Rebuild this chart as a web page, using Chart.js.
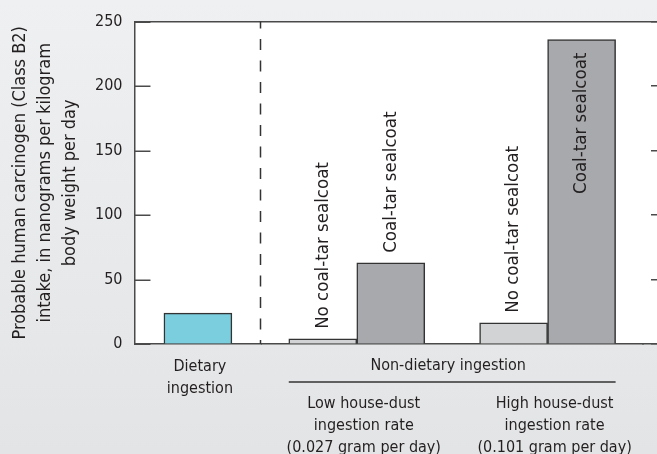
<!DOCTYPE html>
<html>
<head>
<meta charset="utf-8">
<script src="https://cdn.jsdelivr.net/npm/chart.js@4.4.0/dist/chart.umd.min.js"></script>
<style>
  html, body { margin: 0; padding: 0; }
  body {
    width: 657px;
    height: 454px;
    overflow: hidden;
    background: linear-gradient(#eff0f1, #e3e4e5);
  }
  /* the original figure is cropped on the right and bottom edges */
  #wrap { width: 668px; height: 476px; }
</style>
</head>
<body>
<div id="wrap"><canvas id="chart"></canvas></div>
<script>
const dietaryLabels = [['Dietary', 'ingestion']];
const houseDustLabels = [
  ['Low house-dust', 'ingestion rate', '(0.027 gram per day)'],
  ['High house-dust', 'ingestion rate', '(0.101 gram per day)'],
];
const groupTitle = 'Non-dietary ingestion';
const yTitle = [
  'Probable human carcinogen (Class B2)',
  'intake, in nanograms per kilogram',
  'body weight per day',
];

const dietaryIntake = [24];
const noCoalTarIntake = [4, 16.5];
const coalTarIntake = [63, 236];
const yTicks = [0, 50, 100, 150, 200, 250];

const FONT = "'DejaVu Sans Condensed', 'Liberation Sans Narrow', 'DejaVu Sans', sans-serif";
const INK = '#231f20';
const AXIS = '#4a4a4a';
const BAR_EDGE = '#333333';
const BAR_WIDTH = 68;

const plotFrame = {
  id: 'plotFrame',
  beforeDraw(chart) {
    const { ctx, chartArea: a } = chart;
    ctx.save();
    ctx.fillStyle = '#ffffff';
    ctx.fillRect(a.left, a.top, a.right - a.left, a.bottom - a.top);
    ctx.restore();
  },
  afterDatasetsDraw(chart) {
    const { ctx, chartArea: a, scales } = chart;

    // inward tick marks on the left axis
    ctx.save();
    ctx.strokeStyle = AXIS;
    ctx.lineWidth = 1.5;
    yTicks.forEach(v => {
      const py = Math.round(scales.y.getPixelForValue(v)) + 0.25;
      ctx.beginPath();
      ctx.moveTo(a.left, py);
      ctx.lineTo(a.left + 16, py);
      ctx.stroke();
    });
    ctx.restore();

    // dashed line between dietary and non-dietary
    const sx = Math.round(scales.xDiet.right) - 0.5;
    ctx.save();
    ctx.strokeStyle = '#333';
    ctx.lineWidth = 1.5;
    ctx.setLineDash([11, 10.5]);
    ctx.lineDashOffset = 4;
    ctx.beginPath();
    ctx.moveTo(sx, a.top);
    ctx.lineTo(sx, a.bottom);
    ctx.stroke();
    ctx.restore();

    // rotated labels on the house-dust bars
    ctx.save();
    ctx.font = '18.5px ' + FONT;
    ctx.fillStyle = INK;
    ctx.textBaseline = 'middle';
    chart.data.datasets.forEach((ds, i) => {
      if (ds.xAxisID !== 'xNon') return;
      chart.getDatasetMeta(i).data.forEach(bar => {
        const w = ctx.measureText(ds.label).width;
        const inside = bar.y - 10 - w < a.top + 8;
        ctx.save();
        ctx.translate(bar.x, inside ? bar.y + 13 : bar.y - 10);
        ctx.rotate(-Math.PI / 2);
        ctx.textAlign = inside ? 'right' : 'left';
        ctx.fillText(ds.label, 0, 0);
        ctx.restore();
      });
    });
    ctx.restore();
  },
  afterDraw(chart) {
    const { ctx, chartArea: a } = chart;
    let left = Infinity;
    let right = -Infinity;
    chart.data.datasets.forEach((ds, i) => {
      if (ds.xAxisID !== 'xNon') return;
      chart.getDatasetMeta(i).data.forEach(bar => {
        left = Math.min(left, bar.x - bar.width / 2);
        right = Math.max(right, bar.x + bar.width / 2);
      });
    });
    ctx.save();
    ctx.font = '16px ' + FONT;
    ctx.fillStyle = INK;
    ctx.textAlign = 'center';
    ctx.textBaseline = 'middle';
    ctx.fillText(groupTitle, (left + right) / 2 - 4, a.bottom + 22);
    ctx.strokeStyle = '#333';
    ctx.lineWidth = 1.5;
    ctx.beginPath();
    ctx.moveTo(left, a.bottom + 38);
    ctx.lineTo(right, a.bottom + 38);
    ctx.stroke();
    ctx.restore();
  },
};

const tickFont = { family: FONT, size: 16, lineHeight: 1.375 };
const plainX = {
  grid: { display: false, drawTicks: false },
  border: { color: AXIS, width: 1.5 },
};
// stacked bottom axes: keep their label overhang from shrinking the plot
const noSidePadding = axis => {
  axis.paddingLeft = 0;
  axis.paddingRight = 0;
};

new Chart(document.getElementById('chart'), {
  type: 'bar',
  data: {
    datasets: [
      {
        label: 'Dietary ingestion',
        data: dietaryIntake,
        xAxisID: 'xDiet',
        grouped: false,
        backgroundColor: '#7acede',
        borderColor: BAR_EDGE,
        borderWidth: 1.5,
        barThickness: BAR_WIDTH,
      },
      {
        label: 'No coal-tar sealcoat',
        data: noCoalTarIntake,
        xAxisID: 'xNon',
        backgroundColor: '#d1d3d4',
        borderColor: BAR_EDGE,
        borderWidth: 1.5,
        barThickness: BAR_WIDTH,
      },
      {
        label: 'Coal-tar sealcoat',
        data: coalTarIntake,
        xAxisID: 'xNon',
        backgroundColor: '#a7a9ac',
        borderColor: BAR_EDGE,
        borderWidth: 1.5,
        barThickness: BAR_WIDTH,
      },
    ],
  },
  options: {
    responsive: true,
    maintainAspectRatio: false,
    animation: false,
    layout: { padding: { left: 4, top: 21, right: 1, bottom: 0 } },
    plugins: {
      legend: { display: false },
      tooltip: { enabled: false },
    },
    scales: {
      xDiet: {
        type: 'category',
        labels: dietaryLabels,
        position: 'bottom',
        stack: 'bottomAxes',
        stackWeight: 127,
        offset: true,
        ...plainX,
        afterFit: noSidePadding,
        ticks: { padding: 12, color: INK, font: tickFont, maxRotation: 0, autoSkip: false, labelOffset: 2 },
      },
      xNon: {
        type: 'category',
        labels: houseDustLabels,
        position: 'bottom',
        stack: 'bottomAxes',
        stackWeight: 382,
        offset: true,
        ...plainX,
        afterFit: noSidePadding,
        ticks: { padding: 49, color: INK, font: tickFont, maxRotation: 0, autoSkip: false, labelOffset: 7 },
      },
      xPad: {
        type: 'linear',
        position: 'bottom',
        stack: 'bottomAxes',
        stackWeight: 24,
        ...plainX,
        ticks: { display: false },
      },
      xTop: {
        type: 'linear',
        position: 'top',
        ...plainX,
        ticks: { display: false },
      },
      y: {
        position: 'left',
        min: 0,
        max: 250,
        afterBuildTicks: axis => {
          axis.ticks = yTicks.map(v => ({ value: v }));
        },
        grid: { drawOnChartArea: false, drawTicks: false },
        border: { color: AXIS, width: 1.5 },
        ticks: { padding: 12, color: INK, font: { family: FONT, size: 16 } },
        title: {
          display: true,
          text: yTitle,
          color: INK,
          font: { family: FONT, size: 18, lineHeight: 25 / 18 },
          padding: { top: 4, bottom: 0 },
        },
      },
      y2: {
        position: 'right',
        min: 0,
        max: 250,
        afterBuildTicks: axis => {
          axis.ticks = yTicks.map(v => ({ value: v }));
        },
        afterFit: axis => {
          axis.width = 0;
        },
        border: { color: AXIS, width: 1.5 },
        ticks: { display: false },
        grid: { drawOnChartArea: false, drawTicks: true, tickLength: -16, color: AXIS, lineWidth: 1.5 },
      },
    },
  },
  plugins: [plotFrame],
});
</script>
</body>
</html>
